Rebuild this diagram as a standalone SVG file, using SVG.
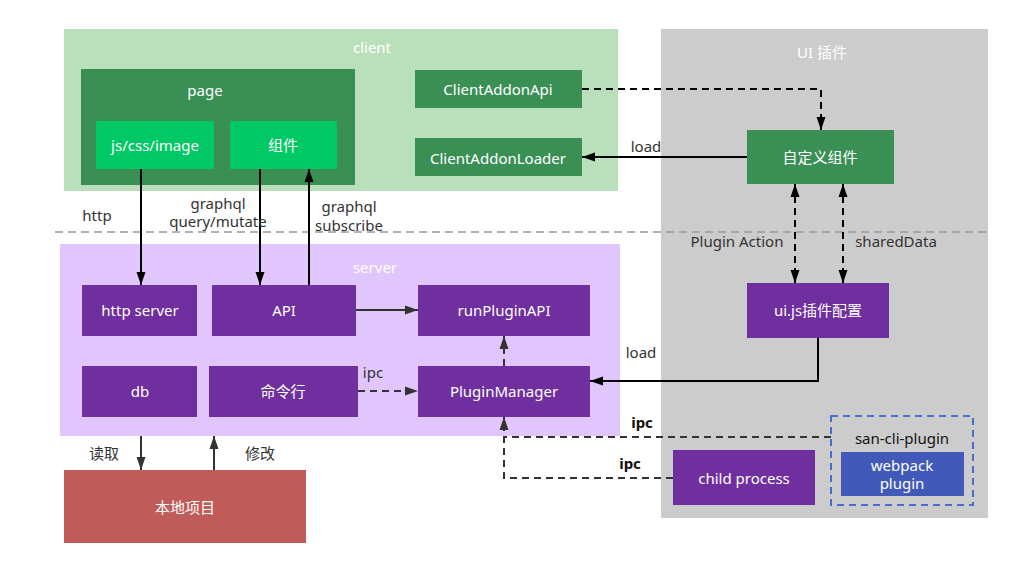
<svg xmlns="http://www.w3.org/2000/svg" width="1013" height="568" viewBox="0 0 1013 568">
<style>
text{font-family:"Noto Sans","Noto Sans CJK SC",sans-serif;font-size:15px;text-anchor:middle;dominant-baseline:central}
.w{fill:#fff}
.d{fill:#333}
.dg{fill:#3a8f55}
.lg{fill:#00c864}
.pu{fill:#6f2f9e}
.ln{fill:none;stroke:#000;stroke-width:2}
.dash{fill:none;stroke:#333;stroke-width:2;stroke-dasharray:7 5}
</style>
<defs>
<marker id="a" viewBox="0 0 13 10" refX="13" refY="5" markerWidth="6.5" markerHeight="5" orient="auto-start-reverse" markerUnits="strokeWidth"><path d="M0,0.5L13,5L0,9.5z" fill="#000"/></marker>
<marker id="b" viewBox="0 0 13 10" refX="13" refY="5" markerWidth="6.5" markerHeight="5" orient="auto-start-reverse" markerUnits="strokeWidth"><path d="M0,0.5L13,5L0,9.5z" fill="#333"/></marker>
</defs>
<g id="client"><rect x="64" y="29" width="554" height="162" fill="#b9dfbb"/><text x="372" y="47" class="w">client</text></g>
<g id="ui-plugin"><rect x="661" y="29" width="327" height="489" fill="#cccccc"/><text x="822" y="52" class="w">UI 插件</text></g>
<g id="server"><rect x="60" y="244" width="560" height="192" fill="#e1c6fd"/><text x="375" y="267" class="w">server</text></g>
<line x1="55" y1="232" x2="988" y2="232" stroke="#999" stroke-width="1.5" stroke-dasharray="8 5"/>
<g id="page"><rect x="81" y="69" width="274" height="116" class="dg"/><text x="205" y="90" class="w">page</text></g>
<g id="jscss"><rect x="96" y="121" width="118" height="48" class="lg"/><text x="155" y="145" class="w">js/css/image</text></g>
<g id="zujian"><rect x="230" y="121" width="107" height="48" class="lg"/><text x="283" y="145" class="w">组件</text></g>
<g id="clientaddonapi"><rect x="415" y="70" width="167" height="38" class="dg"/><text x="498" y="89" class="w">ClientAddonApi</text></g>
<g id="clientaddonloader"><rect x="415" y="138" width="167" height="38" class="dg"/><text x="498" y="158" class="w">ClientAddonLoader</text></g>
<g id="custom"><rect x="747" y="130" width="147" height="54" class="dg"/><text x="820" y="157" class="w">自定义组件</text></g>
<g id="httpserver"><rect x="82" y="285" width="115" height="51" class="pu"/><text x="140" y="310" class="w">http server</text></g>
<g id="api"><rect x="212" y="285" width="144" height="51" class="pu"/><text x="284" y="310" class="w">API</text></g>
<g id="runpluginapi"><rect x="418" y="285" width="172" height="51" class="pu"/><text x="504" y="310" class="w">runPluginAPI</text></g>
<g id="db"><rect x="82" y="366" width="115" height="51" class="pu"/><text x="140" y="391" class="w">db</text></g>
<g id="cli"><rect x="209" y="366" width="149" height="51" class="pu"/><text x="283" y="391" class="w">命令行</text></g>
<g id="pluginmanager"><rect x="418" y="366" width="172" height="51" class="pu"/><text x="504" y="391" class="w">PluginManager</text></g>
<g id="uijs"><rect x="747" y="283" width="142" height="55" class="pu"/><text x="818" y="310" class="w">ui.js插件配置</text></g>
<g id="childprocess"><rect x="673" y="450" width="142" height="55" class="pu"/><text x="744" y="478" class="w">child process</text></g>
<g id="sancliplugin"><rect x="831" y="416" width="142" height="89" fill="none" stroke="#4a6ccc" stroke-width="2" stroke-dasharray="7 5"/><text x="902" y="438" style="fill:#111">san-cli-plugin</text></g>
<g id="webpackplugin"><rect x="841" y="452" width="123" height="44" fill="#4159b9"/><text x="902" y="465" class="w">webpack</text><text x="902" y="483" class="w">plugin</text></g>
<g id="local"><rect x="64" y="470" width="242" height="73" fill="#bf5b58"/><text x="185" y="507" class="w">本地项目</text></g>
<g id="connectors">
<path d="M141,169V285" class="ln" marker-end="url(#a)"/>
<path d="M260,169V285" class="ln" marker-end="url(#a)"/>
<path d="M309,285V169" class="ln" marker-end="url(#a)"/>
<path d="M356,310H418" class="ln" marker-end="url(#b)" style="stroke:#333"/>
<path d="M358,391H418" class="dash" marker-end="url(#b)"/>
<path d="M504,366V336" class="dash" marker-end="url(#b)"/>
<path d="M582,89H821V130" class="dash" style="stroke:#000" marker-end="url(#a)"/>
<path d="M747,157H582" class="ln" marker-end="url(#a)"/>
<path d="M795,184V283" class="dash" style="stroke:#000" marker-start="url(#a)" marker-end="url(#a)"/>
<path d="M843,184V283" class="dash" style="stroke:#000" marker-start="url(#a)" marker-end="url(#a)"/>
<path d="M818,338V381H590" class="ln" marker-end="url(#a)"/>
<path d="M673,478H504V417" class="dash" marker-end="url(#b)"/>
<path d="M831,437H504" class="dash"/>
<path d="M141,436V470" class="ln" style="stroke:#333" marker-end="url(#b)"/>
<path d="M214,470V436" class="ln" style="stroke:#333" marker-end="url(#b)"/>
<text x="97" y="215" class="d">http</text>
<text x="218" y="203" class="d">graphql</text>
<text x="218" y="221" class="d">query/mutate</text>
<text x="349" y="206" class="d">graphql</text>
<text x="349" y="225" class="d">subscribe</text>
<text x="373" y="372" class="d">ipc</text>
<text x="646" y="146" class="d">load</text>
<text x="641" y="352" class="d">load</text>
<text x="737" y="241" class="d">Plugin Action</text>
<text x="896" y="241" class="d">sharedData</text>
<text x="642" y="422" style="fill:#111;font-weight:bold">ipc</text>
<text x="630" y="463" style="fill:#111;font-weight:bold">ipc</text>
<text x="104" y="453" class="d">读取</text>
<text x="260" y="453" class="d">修改</text>
</g>
</svg>
